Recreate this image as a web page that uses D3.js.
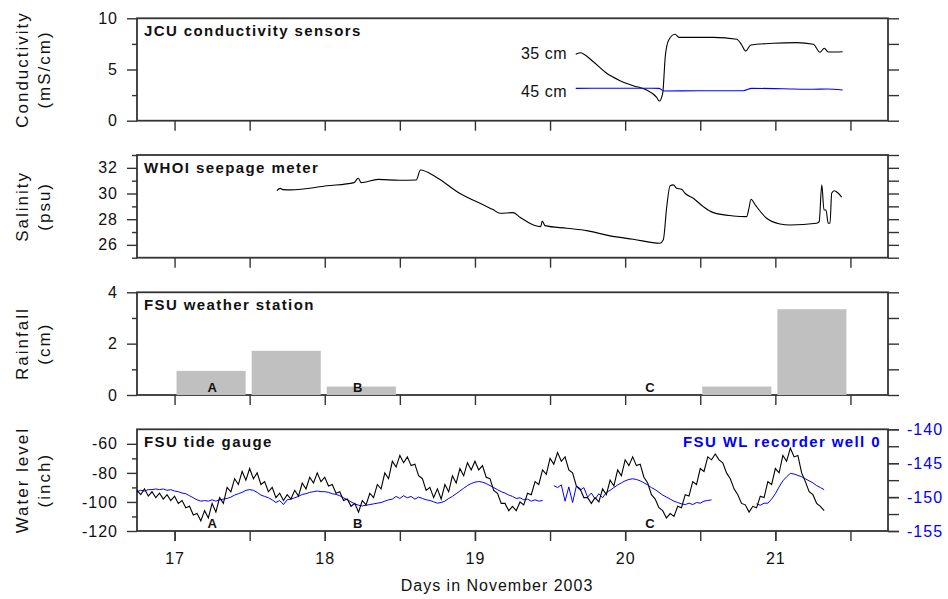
<!DOCTYPE html>
<html>
<head>
<meta charset="utf-8">
<script src="https://cdn.jsdelivr.net/npm/d3@7"></script>
<style>
  body { margin: 0; background: #fff; }
  text { font-family: "Liberation Sans", Arial, sans-serif; }
</style>
</head>
<body>
<div id="chart"></div>
<script>
// ---- data ----
var dayTicks = [17, 18, 19, 20, 21];
var halfDayTicks = [17, 17.5, 18, 18.5, 19, 19.5, 20, 20.5, 21, 21.5];

// JCU conductivity (mS/cm)
var cond35Days = [19.671, 19.699, 19.788, 19.877, 19.966, 20.054, 20.143, 20.210, 20.227, 20.250, 20.267, 20.290, 20.332, 20.359, 20.587, 20.743, 20.776, 20.803, 20.836, 20.986, 21.142, 21.253, 21.297, 21.326, 21.352, 21.448];
var cond35 = [6.48, 6.64, 5.76, 4.63, 3.91, 3.42, 3.00, 2.28, 1.92, 2.68, 6.25, 7.88, 8.44, 8.14, 8.14, 7.95, 7.39, 6.80, 7.39, 7.56, 7.62, 7.46, 6.68, 7.07, 6.71, 6.74];
var cond45Days = [19.671, 19.90, 20.10, 20.227, 20.256, 20.496, 20.786, 20.842, 21.05, 21.253, 21.341, 21.448];
var cond45 = [3.16, 3.17, 3.17, 3.16, 2.90, 2.93, 2.93, 3.16, 3.12, 3.07, 3.10, 3.00];

// WHOI seepage meter salinity (psu)
var salDays = [17.681, 17.705, 17.72, 17.774, 18.015, 18.195, 18.223, 18.243, 18.356, 18.496, 18.609, 18.637, 18.737, 18.898, 19.058, 19.12, 19.167, 19.255, 19.30, 19.389, 19.438, 19.448, 19.466, 19.611, 19.744, 19.899, 20.054, 20.232, 20.254, 20.277, 20.299, 20.321, 20.343, 20.376, 20.398, 20.454, 20.520, 20.587, 20.720, 20.809, 20.822, 20.838, 20.866, 20.942, 21.031, 21.098, 21.275, 21.292, 21.309, 21.324, 21.337, 21.352, 21.364, 21.375, 21.392, 21.419, 21.442];
var salinity = [30.22, 30.40, 30.30, 30.28, 30.60, 30.85, 31.19, 30.85, 31.10, 31.03, 31.05, 31.83, 31.31, 30.02, 29.10, 28.75, 28.46, 28.51, 28.15, 27.55, 27.42, 27.86, 27.50, 27.29, 27.11, 26.70, 26.44, 26.13, 26.39, 28.98, 30.61, 30.67, 30.41, 30.33, 30.02, 29.63, 28.98, 28.51, 28.25, 28.20, 28.72, 29.55, 29.11, 28.07, 27.63, 27.55, 27.68, 27.81, 30.67, 28.72, 28.72, 27.68, 27.68, 30.02, 30.22, 30.02, 29.71];

// FSU weather station rainfall (cm), half-day bins
var rainStart = [17, 17.5, 18, 18.5, 19, 19.5, 20, 20.5, 21];
var rain = [0.94, 1.72, 0.33, 0, 0, 0, 0, 0.33, 3.34];

// FSU tide gauge (inch) and WL recorder well 0, sampled every 0.025 day from 16.75
var tideStart = 16.75, tideStep = 0.025;
var tide = [-92, -95, -91, -96, -93, -97, -94, -98, -95, -99, -96, -101, -99, -104, -103, -109, -108, -113, -106, -111,
  -101, -107, -97, -101, -90, -93, -84, -88, -79, -85, -77, -84, -80, -88, -86, -93, -90, -97, -94, -99,
  -95, -98, -92, -96, -87, -91, -83, -87, -80, -86, -83, -89, -88, -94, -93, -99, -98, -103, -101, -107,
  -99, -102, -94, -97, -88, -91, -80, -84, -72, -76, -68, -73, -69, -75, -74, -82, -84, -92, -90, -97,
  -91, -98, -88, -93, -82, -87, -77, -82, -73, -78, -72, -78, -75, -83, -84, -92, -94, -101, -101, -106,
  -103, -106, -100, -102, -94, -95, -86, -88, -78, -81, -70, -74, -66, -72, -69, -78, -80, -89, -91, -97,
  -97, -101, -97, -100, -91, -95, -85, -89, -78, -82, -71, -75, -69, -75, -74, -83, -87, -95, -98, -104,
  -106, -111, -108, -110, -103, -104, -95, -96, -86, -88, -77, -79, -69, -71, -67, -71, -73, -80, -84, -91,
  -95, -101, -102, -107, -103, -104, -96, -97, -86, -88, -77, -80, -68, -72, -63, -69, -68, -80, -86, -93,
  -95, -101, -103, -106];
var well0 = [-149.2, -149.0, -149.1, -148.9, -148.9, -148.8, -148.9, -148.8, -149.0, -148.9, -149.1, -149.2, -149.4, -149.5, -149.8, -150.1, -150.4, -150.6, -150.5, -150.6,
  -150.4, -150.6, -150.4, -150.3, -150.2, -150.0, -149.7, -149.5, -149.3, -149.0, -148.9, -149.0, -149.3, -149.7, -149.9, -150.1, -150.4, -150.8, -150.5, -151.1,
  -150.4, -150.3, -150.1, -149.9, -149.6, -149.5, -149.3, -149.2, -149.1, -149.2, -149.2, -149.3, -149.5, -149.6, -149.8, -150.1, -150.4, -150.7, -151.0, -151.2,
  -151.3, -151.2, -151.1, -151.0, -150.9, -150.8, -150.6, -150.4, -150.3, -149.9, -150.2, -149.8, -150.1, -149.9, -150.3, -150.0, -150.2, -150.4, -150.5, -150.7,
  -150.9, -150.8, -150.6, -150.2, -149.9, -149.5, -149.1, -148.7, -148.3, -148.0, -147.8, -147.7, -147.8, -148.0, -148.3, -148.6, -148.9, -149.2, -149.4, -149.7,
  -149.9, -150.2, -150.1, -150.4, -150.3, -150.6, -150.4, -150.6, -150.5, null, null, -148.3, -148.6, -148.2, -150.6, -148.5, -150.8, -148.4, -149.0, -148.6,
  -150.0, -149.4, -150.3, -149.5, -150.1, -149.3, -149.0, -148.6, -148.2, -147.9, -147.6, -147.4, -147.3, -147.4, -147.6, -147.9, -148.2, -148.6, -148.9, -149.3,
  -149.7, -150.0, -150.3, -150.6, -150.8, -151.0, -151.1, -150.9, -151.1, -150.8, -150.9, -150.6, -150.5, -150.4, null, null, null, null, null, null,
  null, null, null, null, null, -151.0, -151.2, -150.9, -150.9, -150.3, -149.5, -148.5, -147.6, -147.0, -146.5, -146.6, -146.8, -147.0, -147.3, -147.6,
  -147.9, -148.3, -148.6, -148.9];

var eventDays = [17.25, 18.22, 20.165];
var eventNames = ["A", "B", "C"];

// ---- layout ----
var W = 948, H = 599, left = 137, right = 888;
var svg = d3.select("#chart").append("svg").attr("width", W).attr("height", H);
var x = d3.scaleLinear().domain([16.75, 21.75]).range([left, right]);
var plain = function (d) { return String(d); };

var panels = [
  { top: 18.3, bottom: 120.7, domain: [0, 10], major: [0, 5, 10], minor: [2.5, 7.5], right: [0, 2.5, 5, 7.5, 10],
    title: "JCU conductivity sensors", label: ["Conductivity", "(mS/cm)"] },
  { top: 155, bottom: 257.7, domain: [25, 33], major: [26, 28, 30, 32], minor: [25, 27, 29, 31, 33], right: d3.range(25, 34, 1),
    title: "WHOI seepage meter", label: ["Salinity", "(psu)"] },
  { top: 292.3, bottom: 395, domain: [0, 4], major: [0, 2, 4], minor: [1, 3], right: [0, 1, 2, 3, 4],
    title: "FSU weather station", label: ["Rainfall", "(cm)"] },
  { top: 429.3, bottom: 531, domain: [-120, -50], major: [-120, -100, -80, -60], minor: [-110, -90, -70], right: [],
    title: "FSU tide gauge", label: ["Water level", "(inch)"] }
];

function styleAxis(g) {
  g.select(".domain").remove();
  g.selectAll("line").attr("stroke", "#333").attr("stroke-width", 1.4);
  g.selectAll("text").attr("font-size", 16).attr("fill", "#111").attr("font-family", "Liberation Sans, Arial, sans-serif")
    .style("letter-spacing", "1px");
}

var ys = panels.map(function (p) {
  var y = d3.scaleLinear().domain(p.domain).range([p.bottom, p.top]);
  var g = svg.append("g");

  g.append("g").attr("transform", "translate(" + left + ",0)")
    .call(d3.axisLeft(y).tickValues(p.major).tickSize(10).tickPadding(9).tickFormat(plain)).call(styleAxis);
  g.append("g").attr("transform", "translate(" + left + ",0)")
    .call(d3.axisLeft(y).tickValues(p.minor).tickSize(5).tickFormat("")).call(styleAxis);
  if (p.right.length) {
    g.append("g").attr("transform", "translate(" + right + ",0)")
      .call(d3.axisRight(y).tickValues(p.right).tickSize(11).tickFormat("")).call(styleAxis);
  }
  g.append("g").attr("transform", "translate(0," + p.bottom + ")")
    .call(d3.axisBottom(x).tickValues(halfDayTicks).tickSize(10).tickFormat("")).call(styleAxis);

  g.append("rect")
    .attr("x", left).attr("y", p.top)
    .attr("width", right - left).attr("height", p.bottom - p.top)
    .attr("fill", "none").attr("stroke", "#333").attr("stroke-width", 1.8);

  g.append("text")
    .attr("x", 144).attr("y", p.top + 18)
    .attr("font-size", 15).attr("font-weight", "bold").style("letter-spacing", "1.4px")
    .attr("fill", "#111")
    .text(p.title);

  var cy = (p.top + p.bottom) / 2;
  p.label.forEach(function (s, i) {
    g.append("text")
      .attr("transform", "translate(" + (22 + i * 22) + "," + cy + ") rotate(-90)")
      .attr("text-anchor", "middle").attr("dominant-baseline", "central")
      .attr("font-size", 17).style("letter-spacing", "2px").attr("fill", "#111")
      .text(s);
  });
  return y;
});

// panel 1: conductivity
var y1 = ys[0];
var smooth = d3.line().curve(d3.curveMonotoneX);
svg.append("path")
  .attr("d", smooth(cond35Days.map(function (d, i) { return [x(d), y1(cond35[i])]; })))
  .attr("fill", "none").attr("stroke", "#000").attr("stroke-width", 1.1);
svg.append("path")
  .attr("d", smooth(cond45Days.map(function (d, i) { return [x(d), y1(cond45[i])]; })))
  .attr("fill", "none").attr("stroke", "#0000ff").attr("stroke-width", 1.1);
svg.append("text").attr("x", 567).attr("y", 58.5).attr("text-anchor", "end")
  .attr("font-size", 16).style("letter-spacing", "0.5px").attr("fill", "#111").text("35 cm");
svg.append("text").attr("x", 567).attr("y", 97).attr("text-anchor", "end")
  .attr("font-size", 16).style("letter-spacing", "0.5px").attr("fill", "#111").text("45 cm");

// panel 2: salinity
var y2 = ys[1];
svg.append("path")
  .attr("d", smooth(salDays.map(function (d, i) { return [x(d), y2(salinity[i])]; })))
  .attr("fill", "none").attr("stroke", "#000").attr("stroke-width", 1.1);

// panel 3: rainfall
var y3 = ys[2];
svg.append("g").selectAll("rect")
  .data(rainStart)
  .enter().append("rect")
  .attr("x", function (d) { return x(d) + 2; })
  .attr("width", function (d) { return x(d + 0.5) - x(d) - 6; })
  .attr("y", function (d, i) { return y3(rain[i]); })
  .attr("height", function (d, i) { return y3(0) - y3(rain[i]); })
  .attr("fill", "#c0c0c0");

eventDays.forEach(function (d, i) {
  [391.5, 528].forEach(function (yy) {
    svg.append("text").attr("x", x(d)).attr("y", yy).attr("text-anchor", "middle")
      .attr("font-size", 13).attr("font-weight", "bold").attr("fill", "#111").text(eventNames[i]);
  });
});

// panel 4: tide gauge + well 0 on right axis
var y4 = ys[3];
var yR = d3.scaleLinear().domain([-155, -140]).range([531, 429.3]);
svg.append("g").attr("transform", "translate(" + right + ",0)")
  .call(d3.axisRight(yR).tickValues([-155, -152.5, -150, -147.5, -145, -142.5, -140]).tickSize(11).tickFormat(""))
  .call(styleAxis);
svg.append("g").attr("transform", "translate(" + right + ",0)")
  .call(d3.axisRight(yR).tickValues([-155, -150, -145, -140]).tickSize(11).tickPadding(8).tickFormat(plain))
  .call(styleAxis)
  .selectAll("text").attr("fill", "#0000ff");

var tideLine = d3.line()
  .defined(function (d) { return d[1] !== null; })
  .x(function (d) { return x(tideStart + d[0] * tideStep); });

svg.append("path")
  .attr("d", tideLine.y(function (d) { return yR(d[1]); })(well0.map(function (v, i) { return [i, v]; })))
  .attr("fill", "none").attr("stroke", "#0000ff").attr("stroke-width", 1);
svg.append("path")
  .attr("d", tideLine.y(function (d) { return y4(d[1]); })(tide.map(function (v, i) { return [i, v]; })))
  .attr("fill", "none").attr("stroke", "#000").attr("stroke-width", 1.1);

svg.append("text").attr("x", 881).attr("y", 446.5).attr("text-anchor", "end")
  .attr("font-size", 15).attr("font-weight", "bold").style("letter-spacing", "1.4px")
  .attr("fill", "#0000ff").text("FSU WL recorder well 0");

// bottom day labels
svg.append("g").attr("transform", "translate(0,531)")
  .call(d3.axisBottom(x).tickValues(dayTicks).tickSize(10).tickPadding(12).tickFormat(plain))
  .call(styleAxis);

svg.append("text").attr("x", 497).attr("y", 591).attr("text-anchor", "middle")
  .attr("font-size", 16).style("letter-spacing", "1px").attr("fill", "#111")
  .text("Days in November 2003");
</script>
</body>
</html>
